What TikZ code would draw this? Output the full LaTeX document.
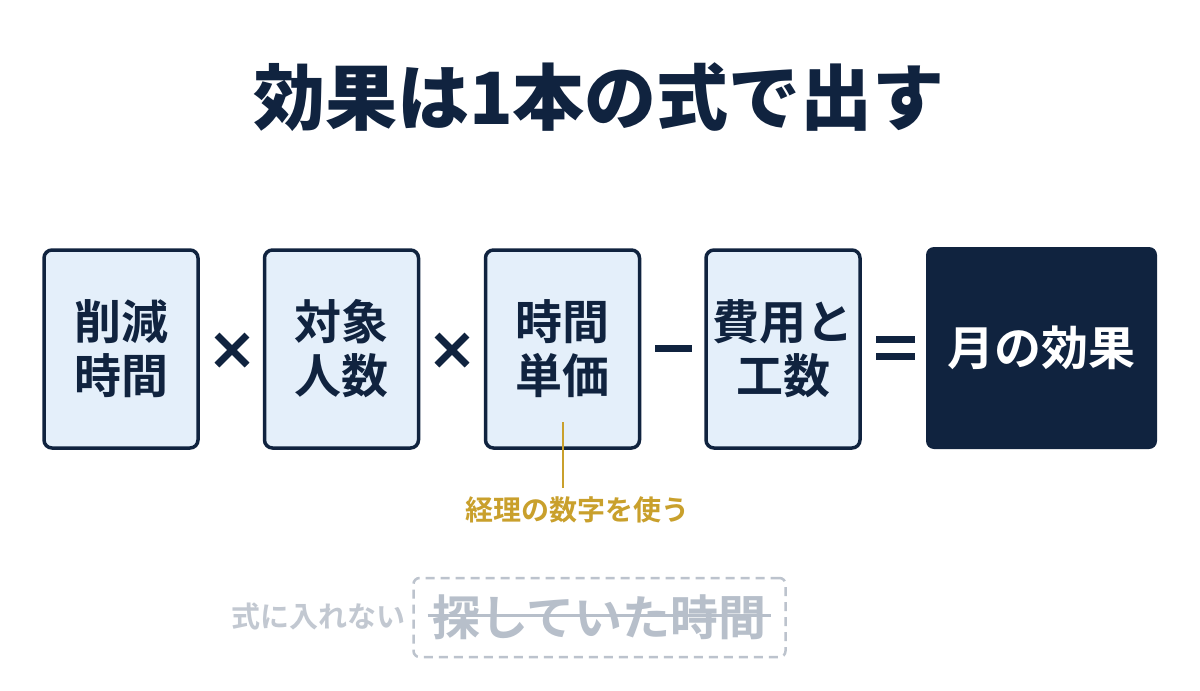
\documentclass[tikz,border=0pt]{standalone}
\usepackage{fontspec}
\setmainfont{Noto Sans CJK JP}[BoldFont=* Bold]
\newfontfamily\heavy{Noto Sans CJK JP Black}
\definecolor{navy}{HTML}{10233F}
\definecolor{boxfill}{HTML}{E4EFFA}
\definecolor{gold}{HTML}{C9A02C}
\definecolor{dashgray}{HTML}{BCC3CD}
\definecolor{striketext}{HTML}{B7BFCA}
\definecolor{notetext}{HTML}{C2C8D1}
\tikzset{
  termbox/.style={draw=navy, fill=boxfill, line width=3.5pt, rounded corners=8pt,
    minimum width=154pt, minimum height=198pt, align=center, text=navy,
    font=\bfseries\fontsize{47}{54}\selectfont, inner sep=0pt},
  resultbox/.style={fill=navy, rounded corners=8pt, minimum width=231pt,
    minimum height=202pt, text=white, font=\bfseries\fontsize{47}{54}\selectfont, inner sep=0pt},
  opnode/.style={inner sep=0pt, minimum size=0pt},
  opline/.style={navy, line width=7pt},
}
\begin{document}
\begin{tikzpicture}[x=1pt,y=-1pt]
\useasboundingbox[fill=white] (0,0) rectangle (1200,691);
\node[text=navy, font=\heavy\fontsize{72}{78}\selectfont] (title) at (599,97) {効果は1本の式で出す};
\node[termbox] (b1) at (121,349) {削減\\時間};
\node[termbox] (b2) at (341.5,349) {対象\\人数};
\node[termbox] (b3) at (562.5,349) {時間\\単価};
\node[termbox] (b4) at (783,349) {費用と\\工数};
\node[resultbox] (b5) at (1041.5,348) {月の効果};
\node[opnode] (op1) at (232,350) {};
\node[opnode] (op2) at (452,350) {};
\node[opnode] (op3) at (673.5,348) {};
\node[opnode] (op4) at (895.5,347.5) {};
\foreach \o in {op1,op2}{
  \draw[opline] ([shift={(-15,-15)}]\o.center) -- ([shift={(15,15)}]\o.center);
  \draw[opline] ([shift={(-15,15)}]\o.center) -- ([shift={(15,-15)}]\o.center);
}
\draw[opline] ([xshift=-18.5pt]op3.center) -- ([xshift=18.5pt]op3.center);
\draw[opline] ([shift={(-19.5,-8.5)}]op4.center) -- ([shift={(19.5,-8.5)}]op4.center);
\draw[opline] ([shift={(-19.5,8.5)}]op4.center) -- ([shift={(19.5,8.5)}]op4.center);
\coordinate (tick) at (563,422);
\node[text=gold, font=\bfseries\fontsize{28}{30}\selectfont, inner sep=0pt] (note) at (577.5,510) {経理の数字を使う};
\draw[gold, line width=2.5pt] (tick) -- (563,488);
\node[draw=dashgray, dashed, dash pattern=on 9pt off 6pt, line width=2.5pt, rounded corners=6pt,
  minimum width=372pt, minimum height=79pt, text=striketext,
  font=\bfseries\fontsize{48}{50}\selectfont, inner sep=0pt] (ex) at (599.5,617.5) {探していた時間};
\draw[striketext, line width=3pt] ([xshift=-15pt]ex.center) ++(-157,-2) -- ++(343,0);
\node[text=notetext, font=\bfseries\fontsize{29}{30}\selectfont, inner sep=0pt, anchor=east] (exlabel) at (406,616) {式に入れない};
\end{tikzpicture}
\end{document}
